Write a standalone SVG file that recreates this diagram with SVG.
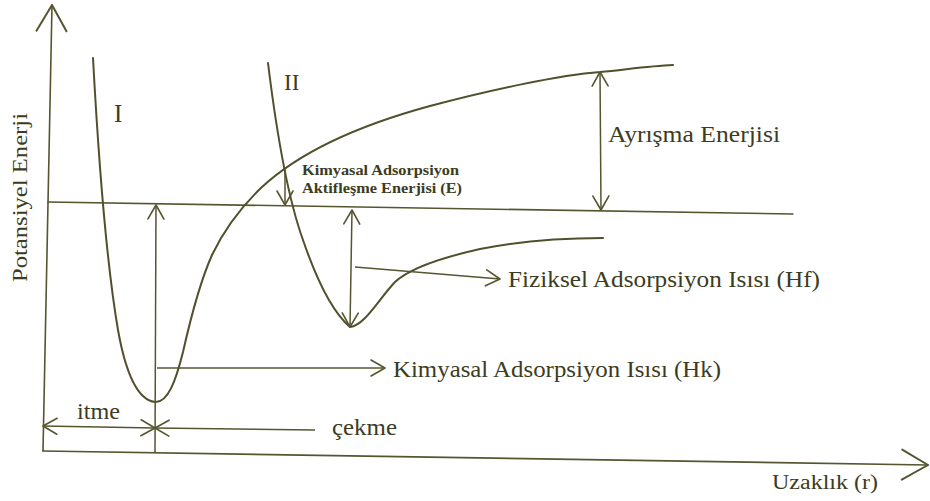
<svg xmlns="http://www.w3.org/2000/svg" width="930" height="501" viewBox="0 0 930 501">
  <style>
    .ln { fill: none; stroke: #55552f; stroke-width: 1.6; stroke-linecap: round; stroke-linejoin: round; }
    .cv { fill: none; stroke: #50502c; stroke-width: 2; stroke-linecap: round; stroke-linejoin: round; }
    .ar { fill: none; stroke: #55552f; stroke-width: 1.5; }
    .tx { font-family: "Liberation Serif", "DejaVu Serif", serif; fill: #3c3c22; }
    .big { font-size: 23px; }
    .small { font-size: 14.5px; font-weight: bold; }
  </style>
  <defs>
    <marker id="head" markerUnits="userSpaceOnUse" viewBox="-16 -10 18 20" refX="0" refY="0" markerWidth="18" markerHeight="20" orient="auto-start-reverse">
      <path d="M-14,-8 L0,0 L-14,8" fill="none" stroke="#55552f" stroke-width="1.6" stroke-linecap="round" stroke-linejoin="round"/>
    </marker>
    <marker id="axhead" markerUnits="userSpaceOnUse" viewBox="-30 -18 32 36" refX="0" refY="0" markerWidth="32" markerHeight="36" orient="auto">
      <path d="M-26,-15 L0,0 L-26,15" fill="none" stroke="#55552f" stroke-width="2" stroke-linecap="round" stroke-linejoin="round"/>
    </marker>
  </defs>

  <rect width="930" height="501" fill="#ffffff"/>

  <!-- axes and zero-energy reference line -->
  <g id="axes">
    <path class="ln" d="M43,451 L52,5" marker-end="url(#axhead)"/>
    <path class="ln" d="M43,451 L928,465" marker-end="url(#axhead)"/>
    <path class="ln" d="M48,202 L793,214"/>
  </g>

  <!-- potential energy curves -->
  <g id="curve-I">
    <path class="cv" d="M93,58 C98,150 106,260 118,330 C126,375 138,400 155,402 C168,403 176,380 183,352 C192,312 200,282 212,255 C225,228 240,208 262,187 C300,152 360,125 430,106 C490,90 560,75 600,72 C630,69 650,66 673,65"/>
  </g>
  <g id="curve-II">
    <path class="cv" d="M268,63 C275,120 285,190 303,240 C315,275 330,310 350,327 C365,325 378,300 395,282 C410,268 440,258 480,249 C520,241 560,238 603,238"/>
  </g>

  <!-- connectors -->
  <g id="connectors">
    <path class="ar" d="M155,452 L156,205" marker-end="url(#head)"/>
    <path class="ar" d="M157,368 L385,368" marker-end="url(#head)"/>
    <path class="ar" d="M285,167 L285,205" marker-end="url(#head)"/>
    <path class="ar" d="M352,210 L350,327" marker-start="url(#head)" marker-end="url(#head)"/>
    <path class="ar" d="M355,267 L500,279" marker-end="url(#head)"/>
    <path class="ar" d="M600,72 L601,210" marker-start="url(#head)" marker-end="url(#head)"/>
    <path class="ar" d="M43,426 L155,428" marker-start="url(#head)" marker-end="url(#head)"/>
    <path class="ar" d="M155,428 L315,430" marker-start="url(#head)"/>
  </g>

  <!-- labels -->
  <g id="label-y">
    <text class="tx" font-size="22" text-anchor="middle" textLength="169" lengthAdjust="spacingAndGlyphs" transform="translate(27,197.5) rotate(-90)">Potansiyel Enerji</text>
  </g>
  <g id="label-x">
    <text class="tx" x="772" y="489" font-size="20" textLength="106" lengthAdjust="spacingAndGlyphs">Uzaklık (r)</text>
  </g>
  <g id="label-I">
    <text class="tx" x="114" y="122" font-size="25">I</text>
  </g>
  <g id="label-II">
    <text class="tx" x="284" y="90" font-size="23">II</text>
  </g>
  <g id="label-E">
    <text class="tx small" x="302" y="175" textLength="157" lengthAdjust="spacingAndGlyphs">Kimyasal Adsorpsiyon</text>
    <text class="tx small" x="302" y="193" textLength="160" lengthAdjust="spacingAndGlyphs">Aktifleşme Enerjisi (E)</text>
  </g>
  <g id="label-ayrisma">
    <text class="tx big" x="608" y="142" textLength="172" lengthAdjust="spacingAndGlyphs">Ayrışma Enerjisi</text>
  </g>
  <g id="label-hf">
    <text class="tx big" x="508" y="287" textLength="312" lengthAdjust="spacingAndGlyphs">Fiziksel Adsorpsiyon Isısı (Hf)</text>
  </g>
  <g id="label-hk">
    <text class="tx big" x="393" y="377" textLength="328" lengthAdjust="spacingAndGlyphs">Kimyasal Adsorpsiyon Isısı (Hk)</text>
  </g>
  <g id="label-itme">
    <text class="tx big" x="77" y="419" textLength="43" lengthAdjust="spacingAndGlyphs">itme</text>
  </g>
  <g id="label-cekme">
    <text class="tx big" x="332" y="435" textLength="65" lengthAdjust="spacingAndGlyphs">çekme</text>
  </g>
</svg>
